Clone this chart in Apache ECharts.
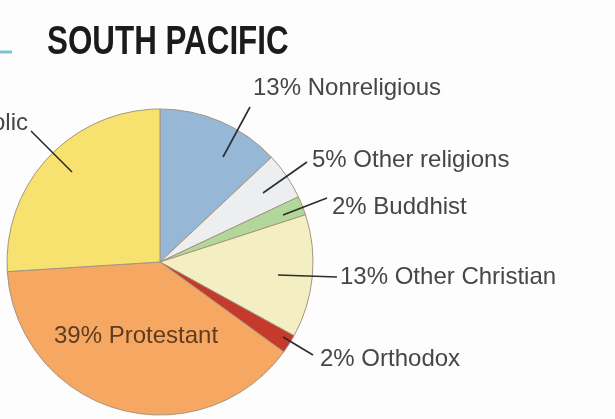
<!DOCTYPE html>
<html>
<head>
<meta charset="utf-8">
<script src="https://cdn.jsdelivr.net/npm/echarts@6/dist/echarts.min.js"></script>
<style>
  html, body { margin: 0; padding: 0; background: #fdfdfd; }
  #main { width: 615px; height: 419px; }
</style>
</head>
<body>
<div id="main"></div>
<script>
// religions of the south pacific, clockwise from 12 o'clock
var names = ['Nonreligious', 'Other religions', 'Buddhist', 'Other Christian', 'Orthodox', 'Protestant', 'Catholic'];
var values = [13, 5, 2, 13, 2, 39, 26];
var colors = ['#97b7d6', '#eceef0', '#b3d79a', '#f4efc2', '#c63a2b', '#f6a762', '#f8e26f'];

// where each label sits (text anchor) and where its leader line starts / ends
var CX = 160, CY = 262, R = 153;
var labelPos = [
    { x: 253, y: 88,  align: 'left',  line: [[223, 157], [250, 107]] },
    { x: 312, y: 160, align: 'left',  line: [[263, 193], [307, 162]] },
    { x: 332, y: 207, align: 'left',  line: [[283, 215], [327, 198]] },
    { x: 340, y: 277, align: 'left',  line: [[278, 275], [337, 277]] },
    { x: 320, y: 359, align: 'left',  line: [[283, 337], [313, 355]] },
    { x: 136, y: 336, align: 'center', line: null, color: '#5e3c22' },
    { x: 28,  y: 123, align: 'right', line: [[72, 172], [31, 131]] }
];

var myChart = echarts.init(document.getElementById('main'));

var sliceData = [];
var labelData = [];
for (var i = 0; i < names.length; i++) {
    sliceData.push({ value: values[i], name: names[i], itemStyle: { color: colors[i] } });
    var d = {
        value: values[i],
        name: names[i],
        labelLine: { show: labelPos[i].line != null }
    };
    if (labelPos[i].color) d.label = { color: labelPos[i].color };
    labelData.push(d);
}

option = {
    backgroundColor: '#fdfdfd',
    animation: false,
    graphic: [
        // little teal rule left over from the neighbouring panel
        { type: 'line', shape: { x1: 0, y1: 52, x2: 12, y2: 52 }, style: { stroke: '#7cc4cf', lineWidth: 3 } },
        // condensed bold heading
        {
            type: 'text',
            x: 47,
            y: 43,
            scaleX: 0.765,
            z: 10,
            style: {
                text: 'SOUTH PACIFIC',
                font: 'bold 41px "Liberation Sans", Arial, sans-serif',
                fill: '#1b1b1b',
                verticalAlign: 'middle'
            }
        }
    ],
    series: [
        {
            // the coloured slices
            name: 'South Pacific',
            type: 'pie',
            z: 2,
            center: [CX, CY],
            radius: [0, R],
            startAngle: 90,
            clockwise: true,
            itemStyle: { borderColor: '#a59582', borderWidth: 1 },
            label: { show: false },
            labelLine: { show: false },
            data: sliceData
        },
        {
            // same wedges, invisible, carrying labels so leader lines sit above the slices
            name: 'labels',
            type: 'pie',
            z: 3,
            silent: true,
            center: [CX, CY],
            radius: [0, R],
            startAngle: 90,
            clockwise: true,
            itemStyle: { color: 'rgba(0,0,0,0)', borderWidth: 0 },
            label: {
                show: true,
                formatter: '{c}% {b}',
                overflow: 'none',
                fontFamily: '"Liberation Sans", Arial, sans-serif',
                fontSize: 24,
                color: '#464646'
            },
            labelLine: {
                show: true,
                lineStyle: { color: '#2c2c2c', width: 1.6 }
            },
            labelLayout: function (params) {
                var p = labelPos[params.dataIndex];
                var out = {
                    x: p.x,
                    y: p.y,
                    align: p.align,
                    verticalAlign: 'middle'
                };
                if (p.line) {
                    out.labelLinePoints = [p.line[0], p.line[1], p.line[1]];
                }
                return out;
            },
            data: labelData
        }
    ]
};

myChart.setOption(option);
</script>
</body>
</html>
